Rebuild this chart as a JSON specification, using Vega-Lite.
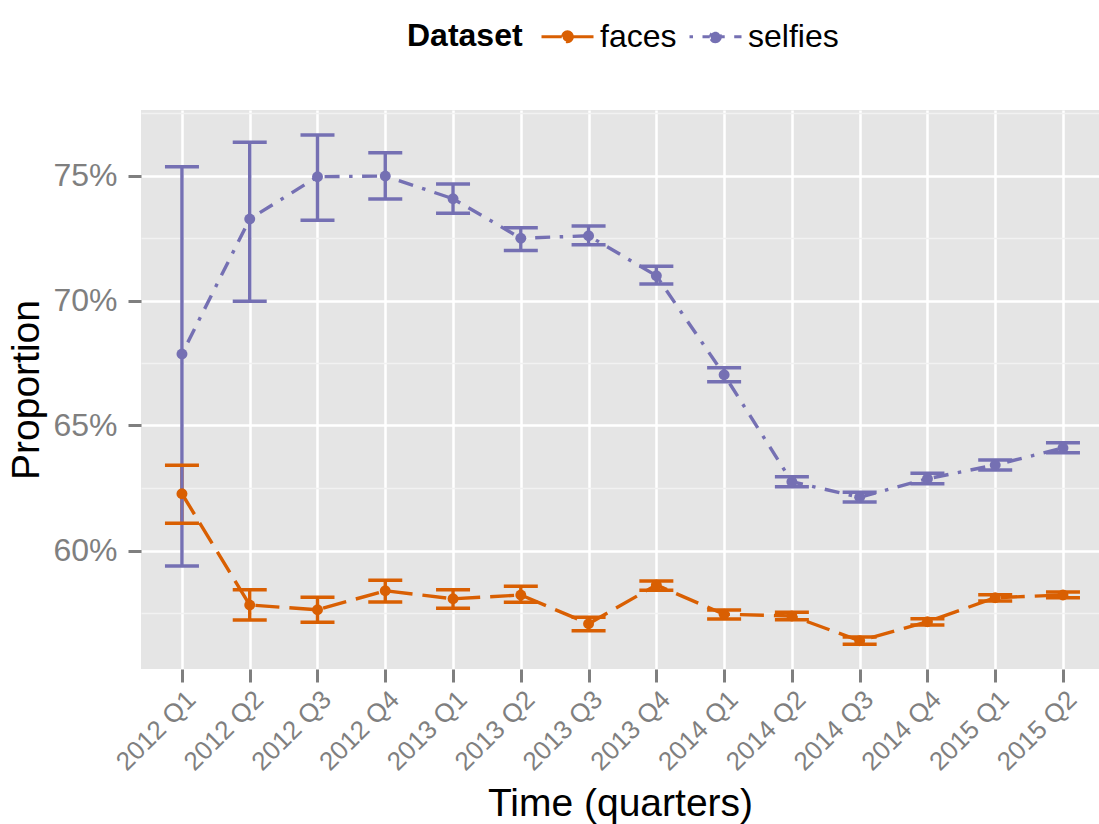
{
  "$schema": "https://vega.github.io/schema/vega-lite/v6.json",
  "width": 958,
  "height": 559,
  "autosize": {"type": "none"},
  "padding": {"left": 141, "top": 110, "right": 0, "bottom": 155},
  "background": "white",
  "config": {
    "font": "Liberation Sans",
    "view": {"fill": "#E5E5E5", "stroke": null},
    "axis": {
      "domain": false,
      "tickColor": "#7F7F7F",
      "tickWidth": 3,
      "tickSize": 13,
      "labelColor": "#7F7F7F",
      "titleColor": "black",
      "titleFontWeight": "normal",
      "titleFontSize": 39,
      "gridColor": "white",
      "gridWidth": 2.5
    }
  },
  "data": {
    "values": [
      {"quarter": "2012 Q1", "dataset": "faces", "p": 0.6227, "lo": 0.6109, "hi": 0.6341},
      {"quarter": "2012 Q2", "dataset": "faces", "p": 0.5782, "lo": 0.5722, "hi": 0.5843},
      {"quarter": "2012 Q3", "dataset": "faces", "p": 0.5763, "lo": 0.5713, "hi": 0.5813},
      {"quarter": "2012 Q4", "dataset": "faces", "p": 0.5839, "lo": 0.5794, "hi": 0.5881},
      {"quarter": "2013 Q1", "dataset": "faces", "p": 0.5807, "lo": 0.5769, "hi": 0.5843},
      {"quarter": "2013 Q2", "dataset": "faces", "p": 0.5822, "lo": 0.5793, "hi": 0.5857},
      {"quarter": "2013 Q3", "dataset": "faces", "p": 0.5707, "lo": 0.5679, "hi": 0.5733},
      {"quarter": "2013 Q4", "dataset": "faces", "p": 0.5862, "lo": 0.5841, "hi": 0.5878},
      {"quarter": "2014 Q1", "dataset": "faces", "p": 0.5745, "lo": 0.5726, "hi": 0.5762},
      {"quarter": "2014 Q2", "dataset": "faces", "p": 0.5738, "lo": 0.5723, "hi": 0.5753},
      {"quarter": "2014 Q3", "dataset": "faces", "p": 0.5639, "lo": 0.5625, "hi": 0.5654},
      {"quarter": "2014 Q4", "dataset": "faces", "p": 0.5715, "lo": 0.5702, "hi": 0.5727},
      {"quarter": "2015 Q1", "dataset": "faces", "p": 0.5811, "lo": 0.5798, "hi": 0.5823},
      {"quarter": "2015 Q2", "dataset": "faces", "p": 0.5822, "lo": 0.5811, "hi": 0.5834},
      {"quarter": "2012 Q1", "dataset": "selfies", "p": 0.6786, "lo": 0.5938, "hi": 0.7535},
      {"quarter": "2012 Q2", "dataset": "selfies", "p": 0.7326, "lo": 0.6997, "hi": 0.7633},
      {"quarter": "2012 Q3", "dataset": "selfies", "p": 0.7495, "lo": 0.7321, "hi": 0.7662},
      {"quarter": "2012 Q4", "dataset": "selfies", "p": 0.7498, "lo": 0.7406, "hi": 0.7591},
      {"quarter": "2013 Q1", "dataset": "selfies", "p": 0.7407, "lo": 0.7349, "hi": 0.7466},
      {"quarter": "2013 Q2", "dataset": "selfies", "p": 0.7249, "lo": 0.7200, "hi": 0.7291},
      {"quarter": "2013 Q3", "dataset": "selfies", "p": 0.7259, "lo": 0.7223, "hi": 0.7298},
      {"quarter": "2013 Q4", "dataset": "selfies", "p": 0.7099, "lo": 0.7066, "hi": 0.7137},
      {"quarter": "2014 Q1", "dataset": "selfies", "p": 0.6703, "lo": 0.6675, "hi": 0.6731},
      {"quarter": "2014 Q2", "dataset": "selfies", "p": 0.6275, "lo": 0.6255, "hi": 0.6295},
      {"quarter": "2014 Q3", "dataset": "selfies", "p": 0.6213, "lo": 0.6194, "hi": 0.6233},
      {"quarter": "2014 Q4", "dataset": "selfies", "p": 0.6287, "lo": 0.6267, "hi": 0.6309},
      {"quarter": "2015 Q1", "dataset": "selfies", "p": 0.6342, "lo": 0.6322, "hi": 0.6362},
      {"quarter": "2015 Q2", "dataset": "selfies", "p": 0.6410, "lo": 0.6391, "hi": 0.6431}
    ]
  },
  "encoding": {
    "x": {
      "field": "quarter",
      "type": "ordinal",
      "sort": null,
      "scale": {"type": "point", "padding": 0.568, "align": 0.532},
      "axis": {
        "title": "Time (quarters)",
        "labelAngle": -45,
        "labelAlign": "right",
        "labelBaseline": "top",
        "labelFontSize": 26,
        "labelPadding": 4,
        "titlePadding": 10,
        "grid": true
      }
    },
    "color": {
      "field": "dataset",
      "type": "nominal",
      "scale": {"domain": ["faces", "selfies"], "range": ["#D95F02", "#7570B3"]},
      "legend": {
        "title": "Dataset",
        "orient": "none",
        "legendX": 266,
        "legendY": -101,
        "direction": "horizontal",
        "titleOrient": "left",
        "titleAnchor": "middle",
        "titleBaseline": "line-top",
        "titleLineHeight": 12,
        "titleFontSize": 32,
        "titleFontWeight": "bold",
        "titleColor": "black",
        "titlePadding": 17,
        "labelFontSize": 32,
        "labelColor": "black",
        "labelOffset": 5,
        "columnPadding": 6,
        "symbolType": "M-1,0H-0.22M0.22,0H1M-0.19,0A0.19,0.19 0 1 1 0.19,0A0.19,0.19 0 1 1 -0.19,0Z",
        "symbolSize": 2704,
        "symbolStrokeWidth": 3,
        "encode": {
          "symbols": {
            "update": {
              "fill": {"scale": "color", "field": "value"},
              "stroke": {"scale": "color", "field": "value"},
              "fillOpacity": {"value": 1},
              "strokeDash": {"signal": "datum.value === 'faces' ? [18, 14, 8, 20] : [3, 8, 12, 8]"}
            }
          }
        }
      }
    }
  },
  "resolve": {"axis": {"y": "independent"}},
  "layer": [
    {
      "mark": {"type": "line", "strokeWidth": 3.4, "strokeCap": "butt"},
      "encoding": {
        "y": {
          "field": "p",
          "type": "quantitative",
          "scale": {"domain": [0.5526, 0.7762], "nice": false, "zero": false},
          "axis": {
            "orient": "left",
            "values": [0.575, 0.625, 0.675, 0.725, 0.775],
            "grid": true,
            "gridColor": "#F2F2F2",
            "gridWidth": 1.3,
            "labels": false,
            "ticks": false,
            "title": null
          }
        },
        "strokeDash": {
          "field": "dataset",
          "type": "nominal",
          "scale": {"domain": ["faces", "selfies"], "range": [[24, 10], [3.5, 9.5, 15, 9.5]]},
          "legend": null
        }
      }
    },
    {
      "mark": {"type": "rule", "strokeWidth": 3.4},
      "encoding": {
        "y": {"field": "lo", "type": "quantitative", "axis": null},
        "y2": {"field": "hi"}
      }
    },
    {
      "mark": {"type": "tick", "size": 34, "thickness": 3.4, "opacity": 1},
      "encoding": {"y": {"field": "lo", "type": "quantitative", "axis": null}}
    },
    {
      "mark": {"type": "tick", "size": 34, "thickness": 3.4, "opacity": 1},
      "encoding": {"y": {"field": "hi", "type": "quantitative", "axis": null}}
    },
    {
      "mark": {"type": "point", "filled": true, "size": 120, "opacity": 1},
      "encoding": {
        "y": {
          "field": "p",
          "type": "quantitative",
          "axis": {
            "orient": "left",
            "title": "Proportion",
            "values": [0.6, 0.65, 0.7, 0.75],
            "format": ".0%",
            "labelFontSize": 32,
            "labelPadding": 11,
            "titlePadding": 6,
            "grid": true
          }
        }
      }
    }
  ]
}
